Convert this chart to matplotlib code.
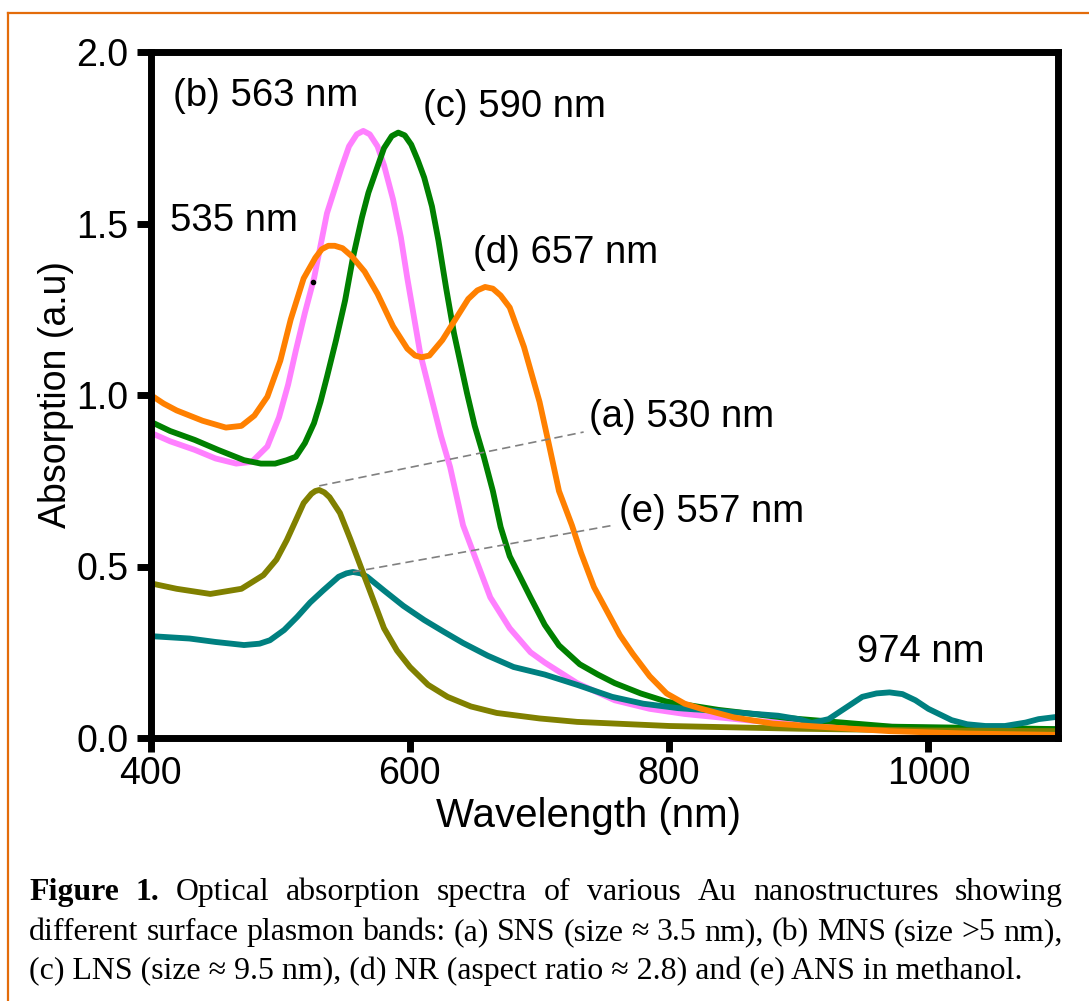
import matplotlib
matplotlib.use("Agg")
import matplotlib.pyplot as plt
from matplotlib.lines import Line2D

W, H = 1089, 1001

# (a) SNS - olive
nm_a = [400, 420, 446, 470, 487, 497, 505, 512, 518, 524, 527, 530, 534, 538, 546,
        554, 562, 571, 580, 590, 600, 614, 629, 647, 667, 700, 729, 800, 900, 1000,
        1100]
abs_a = [0.451, 0.435, 0.42, 0.435, 0.475, 0.52, 0.577, 0.635, 0.685, 0.712, 0.72,
         0.723, 0.716, 0.702, 0.656, 0.58, 0.50, 0.41, 0.32, 0.255, 0.207, 0.155,
         0.12, 0.092, 0.073, 0.057, 0.047, 0.035, 0.027, 0.022, 0.02]

# (b) MNS - pink
nm_b = [400, 415, 434, 450, 466, 478, 490, 499, 506, 512, 519, 526, 536, 547, 553,
        559, 564, 569, 575, 580, 587, 593, 598, 603, 608, 614, 618, 624, 631, 641,
        649, 662, 677, 693, 704, 729, 758, 785, 812, 865, 920, 1000, 1100]
abs_b = [0.89, 0.865, 0.84, 0.815, 0.80, 0.805, 0.85, 0.935, 1.03, 1.13, 1.24, 1.34,
         1.53, 1.66, 1.725, 1.76, 1.77, 1.76, 1.725, 1.67, 1.57, 1.46, 1.34, 1.23,
         1.12, 1.03, 0.97, 0.88, 0.79, 0.62, 0.54, 0.41, 0.32, 0.25, 0.22, 0.16,
         0.11, 0.085, 0.07, 0.05, 0.038, 0.03, 0.025]

# (c) LNS - green
nm_c = [400, 415, 434, 452, 472, 485, 496, 505, 512, 519, 526, 531, 536, 543, 550,
        556, 563, 568, 574, 580, 586, 591, 596, 601, 606, 611, 617, 622, 628, 634,
        644, 650, 657, 664, 670, 677, 685, 693, 704, 715, 731, 745, 758, 778, 798,
        838, 892, 972, 1100]
abs_c = [0.922, 0.895, 0.869, 0.84, 0.81, 0.80, 0.80, 0.81, 0.82, 0.86, 0.918, 0.98,
         1.053, 1.16, 1.276, 1.40, 1.518, 1.59, 1.655, 1.72, 1.755, 1.765, 1.757,
         1.73, 1.685, 1.634, 1.55, 1.45, 1.31, 1.18, 1.006, 0.91, 0.82, 0.72, 0.615,
         0.53, 0.47, 0.41, 0.33, 0.27, 0.215, 0.185, 0.16, 0.13, 0.106, 0.082,
         0.058, 0.033, 0.026]

# (d) NR - orange
nm_d = [400, 410, 420, 440, 458, 470, 480, 490, 500, 508, 518, 527, 532, 537, 542,
        548, 555, 565, 575, 587, 598, 604, 609, 615, 625, 635, 645, 652, 658, 664,
        670, 677, 688, 700, 707, 715, 725, 732, 742, 752, 762, 772, 785, 798, 812,
        825, 850, 880, 920, 970, 1030, 1100]
abs_d = [1.00, 0.975, 0.955, 0.925, 0.905, 0.91, 0.94, 0.995, 1.10, 1.22, 1.34, 1.40,
         1.425, 1.435, 1.435, 1.428, 1.405, 1.36, 1.295, 1.20, 1.135, 1.115, 1.11,
         1.115, 1.16, 1.22, 1.28, 1.305, 1.315, 1.31, 1.29, 1.255, 1.14, 0.98, 0.86,
         0.72, 0.62, 0.54, 0.44, 0.37, 0.30, 0.245, 0.18, 0.13, 0.10, 0.085, 0.06,
         0.042, 0.032, 0.02, 0.013, 0.009]

# (e) ANS - teal
nm_e = [400, 430, 450, 472, 484, 492, 503, 513, 523, 533, 545, 551, 556, 562, 567,
        580, 595, 611, 626, 641, 660, 680, 704, 729, 756, 780, 807, 850, 884, 900,
        910, 923, 935, 949, 960, 970, 980, 990, 1000, 1018, 1030, 1044, 1059, 1075,
        1085, 1100]
abs_e = [0.297, 0.29, 0.28, 0.271, 0.275, 0.285, 0.315, 0.353, 0.395, 0.43, 0.47,
         0.48, 0.484, 0.48, 0.47, 0.43, 0.385, 0.344, 0.31, 0.277, 0.24, 0.207,
         0.185, 0.155, 0.12, 0.10, 0.087, 0.075, 0.065, 0.055, 0.044, 0.055, 0.085,
         0.12, 0.13, 0.133, 0.128, 0.11, 0.085, 0.052, 0.04, 0.035, 0.035, 0.045,
         0.055, 0.062]

# stray dot on the MNS curve
dot_nm = [525]
dot_abs = [1.33]

labels = ["(b) 563 nm", "(c) 590 nm", "535 nm", "(d) 657 nm",
          "(a) 530 nm", "(e) 557 nm", "974 nm"]
label_nm = [417, 610, 415, 649, 738, 761, 945]
label_abs = [1.843, 1.81, 1.479, 1.386, 0.908, 0.631, 0.2225]

caption = [
    "Optical absorption spectra of various Au nanostructures showing",
    "different surface plasmon bands: (a) SNS (size \u2248 3.5 nm), (b) MNS (size >5 nm),",
    "(c) LNS (size \u2248 9.5 nm), (d) NR (aspect ratio \u2248 2.8) and (e) ANS in methanol.",
]

sans = ["Liberation Sans", "DejaVu Sans"]
serif = ["Liberation Serif", "DejaVu Serif"]
plt.rcParams['font.family'] = sans

fig = plt.figure(figsize=(W / 100, H / 100), dpi=100)
ax = fig.add_axes([150.7 / W, 1 - 738 / H, 907.3 / W, 686 / H])

style = dict(lw=4.2, solid_joinstyle='round')
ax.plot(nm_b, abs_b, color='#FF80FF', **style)
ax.plot(nm_c, abs_c, color='#008000', **style)
ax.plot(nm_e, abs_e, color='#008080', **style)
ax.plot(nm_a, abs_a, color='#808000', **style)
ax.plot(nm_d, abs_d, color='#FF8000', **style)
ax.plot(dot_nm, dot_abs, 'o', color='black', ms=3)

# dashed leaders from peaks of (a) and (e) to their labels
ia = abs_a.index(max(abs_a))
ie = abs_e.index(max(abs_e[:20]))
ax.plot([nm_a[ia], label_nm[4] - 4], [abs_a[ia] + 0.012, label_abs[4] - 0.016],
        color='#808080', lw=1.2, ls=(0, (5, 3)))
ax.plot([nm_e[ie], label_nm[5] - 3], [abs_e[ie], label_abs[5] - 0.01],
        color='#808080', lw=1.2, ls=(0, (5, 3)))

for txt, x, y in zip(labels, label_nm, label_abs):
    ax.text(x, y, txt, fontsize=27.5, va='baseline', ha='left')

ax.set_xlim(400, 1100)
ax.set_ylim(0, 2.0)
ax.set_xticks([400, 600, 800, 1000])
ax.set_yticks([0, 0.5, 1.0, 1.5, 2.0])
ax.set_yticklabels(["0.0", "0.5", "1.0", "1.5", "2.0"])
for s in ax.spines.values():
    s.set_linewidth(5)
ax.tick_params(axis='both', direction='out', length=10, width=5, labelsize=27)
ax.tick_params(axis='x', pad=3)
ax.tick_params(axis='y', pad=6)

ax.set_xlabel("Wavelength (nm)", fontsize=29)
ax.set_ylabel("Absorption (a.u)", fontsize=27)
ax.xaxis.set_label_coords((589 - 150.7) / 907.3, (738 - 797) / 686)
ax.yaxis.set_label_coords((74 - 150.7) / 907.3, 0.5)

# orange frame around the figure
fig.add_artist(Line2D([8 / W, 8 / W], [0, 1 - 13 / H], color='#E36C0A', lw=1.6))
fig.add_artist(Line2D([8 / W, 1], [1 - 13 / H, 1 - 13 / H], color='#E36C0A', lw=1.6))

# caption, justified like the journal text
fig.canvas.draw()
rend = fig.canvas.get_renderer()
left, right = 29, 1063
baselines = [900, 940, 979]


def text_width(s, size, weight='normal'):
    t = fig.text(0, 0, s, fontsize=size, family=serif, weight=weight)
    w = t.get_window_extent(rend).width
    t.remove()
    return w


fs = 23
natural = text_width(caption[1], fs)
if natural > right - left:
    fs = fs * (right - left) / natural

line1 = [("Figure", 'bold'), ("1.", 'bold')] + [(w, 'normal') for w in caption[0].split()]
line2 = [(w, 'normal') for w in caption[1].split()]
for words, base in [(line1, baselines[0]), (line2, baselines[1])]:
    widths = [text_width(w, fs, wt) for w, wt in words]
    gap = (right - left - sum(widths)) / (len(words) - 1)
    x = left
    for (w, wt), wd in zip(words, widths):
        fig.text(x / W, 1 - base / H, w, fontsize=fs, family=serif, weight=wt,
                 va='baseline', ha='left')
        x += wd + gap
fig.text(left / W, 1 - baselines[2] / H, caption[2], fontsize=fs, family=serif,
         va='baseline', ha='left')

fig.savefig("out.png", dpi=100)
